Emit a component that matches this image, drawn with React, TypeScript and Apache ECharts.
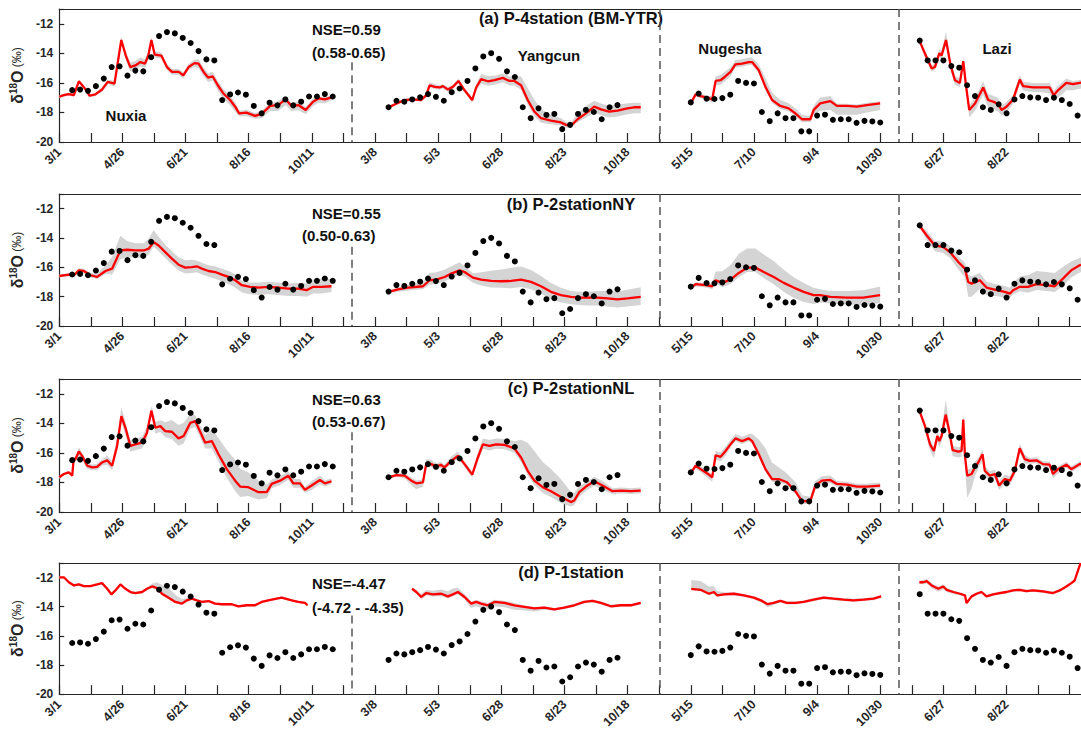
import { useEffect, useRef } from 'react';
import * as echarts from 'echarts';

// ---- axis / layout data ----
const tickDays = [0, 56, 112, 168, 224, 280, 336, 392, 448, 504, 560, 616, 672, 728, 784, 840];
const tickLabels = ['3/1', '4/26', '6/21', '8/16', '10/11', '3/8', '5/3', '6/28', '8/23', '10/18', '5/15', '7/10', '9/4', '10/30', '6/27', '8/22'];
const separators = [259.2, 532.7, 744.1];
const panelTitles = ['(a) P-4station (BM-YTR)', '(b) P-2stationNY', '(c) P-2stationNL', '(d) P-1station'];
const nseValues = ['NSE=0.59', 'NSE=0.55', 'NSE=0.63', 'NSE=-4.47'];
const nseRanges = ['(0.58-0.65)', '(0.50-0.63)', '(0.53-0.67)', '(-4.72 - -4.35)'];
const stations = ['Nuxia', 'Yangcun', 'Nugesha', 'Lazi'];

// ---- observed (weekly samples) ----
const OBS_STEP = 7;
const obsStart = [11.5, 292, 560, 763];
const obsNuxia = [-16.49, -16.45, -16.54, -16.22, -15.71, -14.93, -14.88, -15.51, -15.17, -15.22, -14.26, -12.83, -12.56, -12.65, -12.96, -13.3, -13.85, -14.41, -14.48, -17.16, -16.78, -16.65, -16.8, -17.56, -18.06, -17.34, -17.52, -17.12, -17.52, -17.27, -16.92, -16.92, -16.76, -16.92];
const obsYangcun = [-17.65, -17.21, -17.27, -17.12, -16.98, -16.76, -16.94, -17.21, -16.63, -16.38, -15.87, -15.02, -14.21, -13.99, -14.37, -15.22, -15.6, -17.65, -18.39, -17.72, -18.17, -18.1, -19.13, -18.84, -18.1, -17.83, -17.97, -18.46, -17.65, -17.5];
const obsNugesha = [-17.32, -16.72, -17.07, -17.09, -17.03, -16.8, -15.87, -16.0, -16.04, -17.97, -18.59, -18.06, -18.39, -18.39, -19.28, -19.28, -18.21, -18.15, -18.5, -18.46, -18.46, -18.7, -18.57, -18.61, -18.68];
const obsLazi = [-13.14, -14.48, -14.48, -14.48, -14.86, -14.97, -16.16, -16.89, -17.65, -17.83, -17.45, -18.06, -17.12, -16.89, -16.98, -17.0, -17.16, -17.0, -17.16, -17.43, -18.21];
const obsAll = [obsNuxia, obsYangcun, obsNugesha, obsLazi];

// ---- simulated: [day, median, spread below, spread above] ----
const simA_Nuxia = [[0,-16.94,.1,.1],[4,-16.83,.1,.1],[8.5,-16.76,.1,.1],[13,-16.83,.1,.1],[17.4,-15.89,.15,.1],[22,-16.31,.1,.1],[27,-16.87,.1,.1],[32,-16.78,.1,.1],[38,-16.45,.15,.15],[43,-15.93,.15,.15],[49,-16.05,.2,.2],[55,-13.1,.2,.2],[59,-14.15,.3,.3],[63,-14.93,.3,.3],[67.5,-14.82,.3,.3],[72,-14.59,.3,.3],[76,-14.7,.3,.3],[79,-14.15,.3,.3],[81.7,-13.1,.2,.2],[84.6,-14.08,.2,.2],[90.5,-14.15,.2,.2],[95.5,-14.93,.2,.2],[100,-15.26,.2,.2],[106,-15.26,.2,.2],[110,-15.49,.2,.2],[114.7,-14.93,.2,.2],[120,-14.66,.25,.25],[123.5,-14.7,.3,.3],[128,-15.26,.3,.3],[132,-15.64,.3,.3],[136,-15.55,.3,.3],[140.6,-16.16,.35,.3],[145.6,-16.72,.35,.3],[151.5,-17.16,.35,.3],[156,-17.61,.35,.3],[159.5,-18.06,.2,.2],[166,-18.01,.25,.2],[173.6,-18.23,.2,.2],[179.5,-18.1,.3,.2],[187,-17.56,.35,.2],[194,-17.5,.4,.25],[200.8,-17.12,.4,.25],[206,-17.56,.35,.2],[212,-17.5,.35,.25],[218.5,-17.83,.3,.2],[225,-17.27,.3,.2],[230,-17.05,.3,.15],[235.6,-17.12,.25,.15],[241.4,-16.98,.2,.15],[244.4,-16.94,.15,.1]];
const simA_Yangcun = [[292.2,-17.65,.1,.1],[299.2,-17.39,.1,.1],[306.3,-17.16,.1,.1],[313.7,-17.12,.1,.1],[321,-17.16,.1,.1],[325.5,-16.83,.15,.15],[328.4,-16.16,.15,.2],[332.9,-16.27,.15,.2],[337.3,-16.31,.15,.15],[340.2,-16.22,.15,.15],[344.6,-16.45,.15,.15],[349,-16.27,.15,.15],[354,-15.87,.15,.15],[359.4,-16.5,.15,.15],[366.2,-17.16,.15,.15],[369.7,-16.31,.2,.2],[374.1,-15.75,.3,.35],[380,-15.89,.3,.35],[386,-15.82,.3,.3],[393.3,-15.66,.3,.3],[399.2,-15.87,.3,.3],[403.6,-15.87,.3,.35],[409.5,-16.16,.3,.6],[415.4,-17.16,.3,.8],[421.3,-17.94,.3,.8],[427.2,-18.39,.3,.6],[436,-18.55,.25,.4],[444.9,-18.68,.2,.3],[449.3,-18.84,.2,.2],[453.7,-18.9,.15,.2],[459.6,-18.46,.2,.4],[467,-18.06,.3,.5],[474.4,-17.61,.4,.4],[480.3,-17.79,.4,.4],[487.6,-17.94,.4,.4],[495,-17.88,.4,.4],[503.8,-17.72,.4,.35],[509.7,-17.65,.4,.3],[515.6,-17.65,.4,.3]];
const simA_Nugesha = [[560.4,-17.32,.1,.1],[564.3,-16.78,.15,.15],[568.7,-16.89,.15,.15],[574.6,-17.0,.15,.15],[579,-17.12,.2,.2],[582,-15.87,.3,.3],[586.4,-15.82,.3,.35],[590.8,-15.55,.3,.35],[595.2,-15.26,.3,.3],[599.6,-14.75,.2,.3],[605.5,-14.7,.2,.3],[611.4,-14.59,.2,.3],[614.4,-14.59,.2,.3],[620.3,-15.15,.2,.4],[626.2,-16.27,.2,.6],[632.1,-17.16,.2,.5],[639.4,-17.56,.2,.4],[646.8,-17.72,.2,.35],[652.7,-18.06,.2,.35],[658.6,-18.46,.2,.3],[666,-18.46,.2,.2],[669,-17.83,.3,.3],[674.8,-17.39,.5,.4],[683.7,-17.23,.6,.35],[689.6,-17.56,.6,.15],[698.4,-17.56,.6,.15],[707.3,-17.61,.55,.15],[716.1,-17.5,.5,.15],[727.9,-17.39,.45,.15]];
const simA_Lazi = [[762.7,-13.14,.1,.1],[767.7,-14.03,.2,.2],[773.6,-15.03,.2,.2],[776.5,-14.93,.2,.2],[780.4,-13.99,.2,.3],[782.4,-14.15,.3,.3],[786.3,-13.1,.3,.6],[790.4,-14.82,.3,.3],[794.2,-15.82,.3,.3],[798.6,-16.0,.3,.3],[801.6,-14.53,.3,.3],[804,-16.16,.4,.3],[806.9,-17.83,.5,.3],[812,-17.39,.5,.4],[819.3,-16.31,.5,.4],[823.7,-17.16,.5,.4],[828.1,-17.27,.5,.4],[832.5,-17.43,.5,.4],[835.5,-17.83,.4,.3],[839.9,-17.61,.4,.3],[845.8,-17.12,.3,.3],[851.7,-15.78,.3,.3],[854.7,-16.22,.3,.3],[863.5,-16.31,.3,.3],[869.4,-16.31,.3,.3],[878.2,-16.31,.4,.3],[881.8,-16.83,.4,.3],[885.6,-16.5,.5,.3],[893,-16.0,.5,.3],[898.9,-16.09,.4,.2],[904.8,-16.0,.4,.2],[906,-15.98,.4,.2]];

const simB_Nuxia = [[0,-16.59,.1,.1],[8.5,-16.5,.1,.1],[13,-16.54,.1,.1],[17.4,-16.2,.15,.15],[21.8,-16.25,.15,.15],[27.7,-16.54,.15,.15],[33.6,-16.65,.15,.2],[41,-16.25,.2,.4],[46.9,-16.09,.4,.8],[54.2,-14.85,.6,1.0],[60.1,-14.8,.5,.6],[67.5,-14.85,.5,.5],[74.9,-14.85,.5,.5],[79.3,-14.73,.4,.7],[83.7,-14.28,.3,.8],[88.1,-14.51,.4,.6],[94,-14.96,.4,.5],[99.9,-15.41,.4,.5],[105.8,-15.82,.4,.5],[111.7,-16.02,.4,.5],[117.6,-15.98,.4,.5],[122,-15.93,.4,.4],[126.5,-16.09,.4,.4],[132.4,-16.25,.4,.4],[138.3,-16.32,.45,.4],[144.2,-16.5,.45,.4],[150.1,-16.65,.5,.4],[156,-16.88,.5,.4],[161.9,-17.22,.5,.3],[169.2,-17.33,.5,.3],[176.6,-17.38,.5,.35],[185.4,-17.33,.5,.35],[194.3,-17.38,.5,.35],[203.1,-17.45,.5,.35],[212,-17.45,.5,.4],[219.3,-17.56,.45,.45],[225.2,-17.33,.45,.5],[232.6,-17.33,.45,.55],[241.4,-17.29,.4,.5]];
const simB_Yangcun = [[292.2,-17.67,.1,.1],[300.4,-17.51,.15,.15],[309.3,-17.38,.2,.2],[322.5,-17.29,.2,.3],[328.4,-16.88,.3,.5],[334.3,-16.84,.3,.5],[341.7,-16.66,.3,.5],[347.6,-16.43,.3,.5],[355,-16.2,.3,.55],[359.4,-16.32,.3,.4],[366.8,-16.7,.35,.3],[374.1,-16.84,.4,.5],[383,-16.93,.45,.7],[391.8,-16.95,.45,.8],[400.7,-16.93,.5,.9],[409.5,-16.84,.5,.9],[418.3,-16.99,.5,.8],[427.2,-17.29,.5,.7],[436,-17.67,.5,.6],[444.9,-17.9,.5,.5],[453.7,-18.01,.5,.4],[461.1,-18.06,.5,.4],[468.5,-18.06,.55,.4],[477.3,-18.06,.55,.45],[486.2,-18.12,.55,.5],[495,-18.19,.55,.55],[503.8,-18.12,.55,.6],[515.6,-18.01,.55,.65]];
const simB_Nugesha = [[560.4,-17.38,.1,.1],[564.3,-17.15,.15,.15],[573.1,-17.22,.15,.15],[579,-17.29,.2,.2],[582,-16.88,.2,.6],[587.9,-17.06,.3,.8],[595.2,-16.84,.3,1.0],[602.6,-16.38,.3,1.3],[610,-16.02,.3,1.3],[617.3,-16.02,.3,1.3],[624.7,-16.32,.4,1.2],[633.5,-16.66,.5,1.1],[642.4,-17.06,.6,.9],[651.2,-17.38,.7,.7],[660.1,-17.67,.7,.6],[668.9,-17.9,.6,.5],[674.8,-17.9,.5,.4],[683.7,-18.01,.45,.4],[698.4,-18.06,.45,.45],[713.1,-18.06,.5,.5],[727.9,-17.9,.55,.6]];
const simB_Lazi = [[762.7,-13.15,.1,.1],[769.2,-13.83,.3,.3],[776.5,-14.51,.4,.3],[783.9,-14.62,.4,.4],[789.8,-14.96,.4,.4],[797.2,-15.64,.5,.4],[803.1,-16.09,.6,.4],[806,-17.0,1.0,.5],[809,-17.11,.9,.5],[816.3,-16.88,.6,.5],[822.2,-17.38,.5,.4],[831.1,-17.56,.4,.4],[838.4,-17.67,.4,.4],[842.9,-17.79,.3,.4],[845.8,-17.56,.3,.5],[851.7,-17.33,.3,.7],[859.1,-17.33,.4,.8],[866.5,-17.15,.4,.9],[875.3,-17.22,.4,.9],[882.7,-17.29,.4,.9],[890,-16.77,.5,.8],[897.4,-16.2,.5,.6],[904.8,-15.86,.5,.5],[906,-15.82,.5,.5]];

const simC_Nuxia = [[0,-17.65,.1,.1],[4.1,-17.43,.1,.1],[8.5,-17.32,.1,.1],[11.5,-17.54,.1,.1],[12.7,-16.5,.2,.2],[14.4,-16.42,.2,.2],[17.4,-15.91,.3,.3],[20.3,-16.2,.3,.2],[24.8,-16.87,.2,.2],[29.2,-16.98,.2,.2],[33.6,-16.94,.2,.2],[38,-16.65,.2,.2],[42.5,-16.5,.3,.3],[46.9,-16.87,.3,.3],[51.3,-15.53,.3,.6],[55.1,-13.52,.4,.6],[58.7,-14.3,.5,.4],[63.1,-15.53,.4,.4],[67.5,-15.42,.4,.4],[73.4,-15.31,.4,.4],[77.8,-14.64,.4,.4],[81.7,-13.14,.3,.3],[85.2,-14.3,.4,.4],[89.6,-14.19,.4,.4],[94,-14.53,.4,.6],[99.9,-14.57,.5,.8],[105.8,-15.02,.5,.9],[110.3,-14.86,.5,.9],[116.2,-13.97,.4,.6],[120.6,-13.85,.4,.4],[125,-14.57,.4,.4],[129.4,-15.31,.4,.5],[135.3,-15.2,.5,.8],[141.2,-16.09,.5,1.1],[148.6,-17.1,.6,1.3],[156,-17.88,.7,1.4],[160.4,-18.28,.7,1.2],[167.7,-18.32,.6,1.0],[176.6,-18.66,.5,.8],[184,-18.66,.4,.5],[188.4,-18.1,.3,.3],[195.8,-17.88,.3,.3],[203.1,-17.54,.3,.3],[207.5,-18.06,.3,.3],[213.4,-18.06,.3,.3],[217.9,-18.5,.2,.2],[223.8,-18.21,.3,.3],[231.1,-17.83,.3,.3],[235.6,-18.06,.2,.2],[241.4,-17.92,.2,.2]];
const simC_Yangcun = [[292.2,-17.65,.1,.1],[299,-17.5,.1,.1],[306.3,-17.54,.2,.2],[312.2,-17.88,.3,.2],[316.6,-18.06,.4,.2],[322.5,-17.99,.3,.2],[325.5,-16.72,.2,.3],[329.9,-16.76,.2,.3],[334.3,-16.94,.2,.2],[338.2,-16.8,.2,.2],[341.7,-16.98,.2,.2],[347.6,-16.54,.2,.3],[353.5,-16.2,.2,.3],[359.4,-16.76,.2,.2],[366.2,-17.47,.2,.2],[371.2,-16.31,.3,.3],[375.6,-15.42,.3,.4],[381.5,-15.53,.3,.4],[387.4,-15.42,.3,.4],[394.8,-15.46,.3,.4],[403.6,-15.69,.3,.5],[409.5,-16.31,.3,1.2],[415.4,-17.21,.3,1.9],[421.3,-17.88,.3,2.0],[428.7,-18.32,.4,1.7],[436,-18.59,.4,1.5],[444.9,-18.99,.4,1.2],[453.7,-19.33,.3,.7],[456.7,-19.22,.3,.5],[461.1,-18.66,.3,.4],[467,-18.28,.3,.3],[474.4,-17.92,.3,.3],[481.7,-18.21,.3,.3],[490.6,-18.59,.2,.2],[498,-18.55,.2,.2],[506.8,-18.59,.2,.2],[515.6,-18.55,.2,.2]];
const simC_Nugesha = [[560.4,-17.32,.1,.1],[564.3,-16.87,.2,.2],[568.7,-17.1,.2,.2],[574.6,-17.39,.3,.2],[579,-17.65,.3,.2],[582,-16.16,.3,.3],[586.4,-16.27,.3,.3],[590.8,-15.87,.3,.3],[595.2,-15.42,.2,.3],[599.6,-15.02,.2,.3],[605.5,-15.2,.2,.3],[611.4,-15.02,.2,.3],[614.4,-15.2,.2,.5],[620.3,-16.09,.2,1.0],[626.2,-17.1,.2,1.4],[632.1,-17.77,.2,1.1],[638,-17.77,.2,.8],[645.3,-17.99,.2,.6],[652.7,-18.59,.2,.6],[658.6,-19.26,.2,.4],[666,-19.26,.2,.3],[670.4,-18.21,.3,.3],[676.3,-17.88,.3,.3],[683.7,-17.83,.2,.3],[689.6,-18.1,.2,.2],[698.4,-18.15,.2,.2],[707.3,-18.28,.2,.2],[716.1,-18.28,.2,.2],[727.9,-18.21,.2,.2]];
const simC_Lazi = [[762.7,-13.14,.1,.1],[767.7,-14.19,.3,.2],[772.1,-15.42,.4,.3],[775.6,-15.87,.5,.3],[778.6,-14.86,.4,.3],[780.4,-15.2,.4,.3],[782.4,-14.86,.4,.4],[786,-13.41,.4,1.0],[789.2,-14.53,.4,.5],[792.2,-15.82,.4,.3],[797.2,-15.91,.4,.3],[800.1,-15.87,.4,.3],[801.6,-13.74,.4,.4],[803.1,-16.2,.8,.4],[805.1,-17.54,1.5,.4],[809,-17.43,1.0,.4],[811.9,-16.98,.6,.4],[814.9,-16.65,.4,.3],[818.7,-16.09,.4,.3],[820.7,-17.21,.4,.3],[825.2,-17.54,.3,.3],[829.6,-17.43,.3,.3],[833.4,-18.21,.3,.3],[838.4,-17.77,.3,.3],[842.9,-17.88,.3,.3],[847.3,-17.21,.3,.3],[851.7,-15.69,.3,.3],[856.1,-16.42,.3,.3],[860.6,-16.54,.2,.2],[866.5,-16.5,.2,.2],[872.3,-16.76,.2,.2],[878.2,-16.8,.2,.2],[881.2,-17.43,.3,.2],[885.6,-17.1,.3,.2],[893,-16.8,.2,.2],[897.4,-17.1,.2,.2],[904.8,-16.76,.2,.2],[906,-16.74,.2,.2]];

const simD_Nuxia = [[0,-11.98,.08,.08],[4.1,-11.98,.08,.08],[8.5,-12.32,.08,.08],[13,-12.54,.08,.08],[17.4,-12.47,.08,.08],[21.8,-12.59,.08,.08],[27.7,-12.59,.08,.08],[33.6,-12.47,.08,.08],[38,-12.38,.08,.08],[42.5,-12.77,.08,.08],[46.3,-13.15,.1,.1],[49.8,-12.88,.08,.08],[54.2,-12.47,.08,.08],[58.7,-12.77,.08,.08],[63.1,-12.99,.08,.08],[67.5,-13.06,.08,.08],[73.4,-12.99,.08,.08],[77.8,-12.77,.1,.1],[82.3,-12.61,.1,.2],[86.7,-12.72,.1,.4],[91.1,-13.11,.1,.6],[97,-13.38,.1,.7],[102.9,-13.67,.1,.5],[108.8,-13.79,.1,.3],[113.2,-13.56,.1,.15],[117.6,-13.45,.08,.08],[122,-13.56,.08,.08],[126.5,-13.67,.08,.08],[132.4,-13.61,.08,.08],[138.3,-13.79,.08,.08],[144.2,-13.83,.08,.08],[153,-13.83,.08,.08],[158.9,-13.97,.08,.08],[166.3,-13.9,.08,.08],[173.6,-13.9,.08,.08],[179.5,-13.67,.08,.08],[188.4,-13.51,.08,.08],[197.2,-13.38,.08,.08],[206.1,-13.56,.08,.08],[212,-13.67,.08,.08],[217.9,-13.74,.08,.08],[220.2,-13.9,.08,.08]];
const simD_Yangcun = [[312.8,-12.77,.1,.1],[316.6,-12.99,.1,.15],[321,-13.33,.15,.2],[325.5,-13.06,.15,.2],[331.4,-13.15,.15,.25],[338.7,-13.11,.15,.3],[344.6,-13.29,.15,.35],[349,-13.15,.15,.4],[353.5,-12.99,.15,.3],[359.4,-13.33,.15,.2],[365.3,-13.79,.3,.15],[369.7,-13.67,.3,.15],[374.1,-13.79,.3,.15],[380,-13.9,.3,.15],[385.9,-13.67,.3,.15],[394.8,-13.74,.3,.15],[403.6,-13.9,.3,.15],[412.4,-14.01,.25,.1],[421.3,-14.12,.2,.1],[430.1,-14.06,.15,.1],[439,-14.19,.1,.1],[447.8,-14.06,.1,.1],[456.7,-13.9,.1,.1],[465.5,-13.67,.1,.1],[472.9,-13.6,.1,.1],[480.3,-13.74,.1,.1],[489.1,-13.97,.1,.1],[498,-13.9,.1,.1],[506.8,-13.9,.1,.1],[515.6,-13.74,.1,.1]];
const simD_Nugesha = [[560.4,-12.77,.1,.6],[568.7,-12.84,.1,.6],[576.1,-13.11,.1,.5],[580.5,-12.99,.1,.4],[583.4,-13.22,.1,.3],[589.3,-13.15,.1,.15],[598.2,-13.11,.1,.1],[607,-13.22,.1,.1],[615.9,-13.38,.1,.1],[623.2,-13.6,.15,.1],[628.2,-13.83,.2,.1],[633.5,-13.74,.15,.1],[639.4,-13.6,.1,.1],[645.3,-13.74,.1,.1],[652.7,-13.74,.1,.1],[660.1,-13.67,.1,.1],[669,-13.51,.1,.1],[677.8,-13.38,.1,.1],[686.6,-13.45,.1,.1],[695.5,-13.51,.1,.1],[704.3,-13.56,.1,.1],[713.1,-13.51,.1,.1],[722,-13.45,.1,.1],[728.8,-13.29,.1,.1]];
const simD_Lazi = [[762.7,-12.32,.1,.1],[766.2,-12.32,.15,.15],[769.2,-12.25,.15,.15],[773.6,-12.54,.2,.15],[779.5,-12.77,.2,.15],[783.9,-12.61,.2,.15],[786.9,-12.84,.15,.15],[792.8,-12.99,.15,.1],[798.6,-13.11,.1,.1],[803.1,-13.22,.1,.1],[804.5,-13.74,.15,.1],[809,-13.29,.1,.1],[813.4,-13.11,.1,.1],[817.8,-12.99,.1,.1],[822.2,-13.29,.1,.1],[828.1,-13.15,.1,.1],[834,-13.06,.1,.1],[839.9,-12.99,.1,.1],[845.8,-12.88,.1,.1],[851.7,-12.84,.1,.1],[857.6,-12.93,.1,.1],[863.5,-12.88,.1,.1],[872.3,-12.95,.1,.1],[881.2,-13.06,.1,.1],[887.1,-12.88,.1,.1],[893,-12.61,.1,.1],[897.4,-12.38,.1,.1],[900.4,-12.2,.1,.1],[903.3,-11.53,.1,.1],[905.6,-11.0,.1,.1]];

const simRows = [
  [simA_Nuxia, simA_Yangcun, simA_Nugesha, simA_Lazi],
  [simB_Nuxia, simB_Yangcun, simB_Nugesha, simB_Lazi],
  [simC_Nuxia, simC_Yangcun, simC_Nugesha, simC_Lazi],
  [simD_Nuxia, simD_Yangcun, simD_Nugesha, simD_Lazi],
];

// ---- layout ----
const rowTops = [9, 194, 379, 563];
const rowHeights = [133, 132, 133, 134];
const FONT = '"Liberation Sans", Arial, Helvetica, sans-serif';
const AXIS_COLOR = '#262626';
const X_MAX = 906;

function labelFor(v: number): string {
  const i = tickDays.indexOf(v);
  return i >= 0 ? tickLabels[i] : '';
}

function buildOption() {
  const grid: any[] = [];
  const xAxis: any[] = [];
  const yAxis: any[] = [];
  const series: any[] = [];
  const graphic: any[] = [];

  for (let r = 0; r < 4; r++) {
    grid.push({ left: 57, right: 0, top: rowTops[r], height: rowHeights[r], containLabel: false });
    xAxis.push({
      type: 'value', gridIndex: r, min: 0, max: X_MAX, interval: 28, position: 'bottom',
      axisLine: { show: true, lineStyle: { color: AXIS_COLOR, width: 1.2 } },
      axisTick: { show: true, inside: true, length: 9, lineStyle: { color: AXIS_COLOR, width: 1.2 } },
      axisLabel: {
        rotate: 45, margin: 8, fontSize: 12.5, fontWeight: 'bold', fontFamily: FONT, color: AXIS_COLOR,
        formatter: (v: number) => labelFor(v), showMaxLabel: false,
      },
      splitLine: { show: false },
    });
    xAxis.push({
      type: 'value', gridIndex: r, min: 0, max: X_MAX, position: 'top',
      axisLine: { show: true, onZero: false, lineStyle: { color: AXIS_COLOR, width: 1.2 } },
      axisTick: { show: false }, axisLabel: { show: false }, splitLine: { show: false },
    });
    yAxis.push({
      type: 'value', gridIndex: r, min: -20, max: -11, interval: 2,
      axisLine: { show: true, onZero: false, lineStyle: { color: AXIS_COLOR, width: 1.2 } },
      axisTick: { show: true, inside: true, length: 5, lineStyle: { color: AXIS_COLOR, width: 1.2 } },
      axisLabel: {
        fontSize: 12, fontWeight: 'bold', fontFamily: FONT, color: AXIS_COLOR, margin: 6,
        formatter: (v: number) => (v > -11.5 ? '' : String(v)),
      },
      splitLine: { show: false },
      name: '{d|δ}{s|18}{d|O} {p|(‰)}',
      nameLocation: 'middle', nameGap: 15, nameRotate: 90,
      nameTextStyle: {
        color: AXIS_COLOR, fontFamily: FONT,
        rich: {
          d: { fontSize: 16, fontWeight: 'bold', fontFamily: FONT, color: AXIS_COLOR, lineHeight: 18 },
          s: { fontSize: 10, fontWeight: 'bold', fontFamily: FONT, color: AXIS_COLOR, verticalAlign: 'top', lineHeight: 18 },
          p: { fontSize: 12, fontFamily: FONT, color: AXIS_COLOR, lineHeight: 18 },
        },
      },
    });

    for (let s = 0; s < 4; s++) {
      const sim = simRows[r][s];
      const band = sim.map((p) => [p[0], p[1] - p[2], p[1] + p[3]]);
      series.push({
        type: 'custom', xAxisIndex: 2 * r, yAxisIndex: r, silent: true, z: 1,
        data: band,
        encode: { x: 0, y: [1, 2] },
        renderItem: (params: any, api: any) => {
          if (params.dataIndex !== 0) return null;
          const pts: number[][] = [];
          for (let i = 0; i < band.length; i++) pts.push(api.coord([band[i][0], band[i][2]]));
          for (let i = band.length - 1; i >= 0; i--) pts.push(api.coord([band[i][0], band[i][1]]));
          return { type: 'polygon', shape: { points: pts }, style: { fill: '#d4d4d4', stroke: 'none' } };
        },
      });
      series.push({
        type: 'line', xAxisIndex: 2 * r, yAxisIndex: r, z: 3,
        data: sim.map((p) => [p[0], p[1]]),
        symbol: 'none', showSymbol: false, clip: true,
        lineStyle: { color: '#ff0000', width: 2.3 },
      });
      const obs = obsAll[s];
      const obsSeries: any = {
        type: 'scatter', xAxisIndex: 2 * r, yAxisIndex: r, z: 4,
        data: obs.map((v, i) => [obsStart[s] + OBS_STEP * i, v]),
        symbol: 'circle', symbolSize: 6,
        itemStyle: { color: '#000000', opacity: 1 },
      };
      if (s === 0) {
        obsSeries.markLine = {
          silent: true, symbol: ['none', 'none'], label: { show: false },
          lineStyle: { color: '#555555', width: 1.5, type: [8, 5] },
          data: [
            [{ coord: [separators[0], -14.6] }, { coord: [separators[0], -20] }],
            [{ coord: [separators[1], -11] }, { coord: [separators[1], -20] }],
            [{ coord: [separators[2], -11] }, { coord: [separators[2], -20] }],
          ],
        };
      }
      series.push(obsSeries);
    }
  }

  const textStyle = (text: string, size: number, align: string) => ({
    text, fontSize: size, fontWeight: 'bold', fontFamily: FONT, fill: '#111111', align, verticalAlign: 'middle',
  });
  const titleY = [18, 204, 388, 572];
  const nseY = [29, 213, 399, 583];
  const rangeY = [52, 235, 421, 607];
  const rangeX = [312, 302, 312, 312];
  for (let r = 0; r < 4; r++) {
    graphic.push({ type: 'text', x: 571, y: titleY[r], style: textStyle(panelTitles[r], 16.5, 'center') });
    graphic.push({ type: 'text', x: 312, y: nseY[r], style: textStyle(nseValues[r], 15, 'left') });
    graphic.push({ type: 'text', x: rangeX[r], y: rangeY[r], style: textStyle(nseRanges[r], 15, 'left') });
  }
  const stationPos = [[126, 115], [549, 55], [730, 48], [997, 48]];
  stations.forEach((name, i) => {
    graphic.push({ type: 'text', x: stationPos[i][0], y: stationPos[i][1], style: textStyle(name, 15, 'center') });
  });

  return { animation: false, backgroundColor: '#ffffff', grid, xAxis, yAxis, series, graphic };
}

export default function App() {
  const ref = useRef<HTMLDivElement>(null);
  useEffect(() => {
    if (!ref.current) return;
    const chart = echarts.init(ref.current, undefined, { renderer: 'svg' });
    chart.setOption(buildOption() as any);
    return () => chart.dispose();
  }, []);
  return <div ref={ref} style={{ position: 'absolute', left: 0, top: 0, width: 1081, height: 731 }} />;
}
